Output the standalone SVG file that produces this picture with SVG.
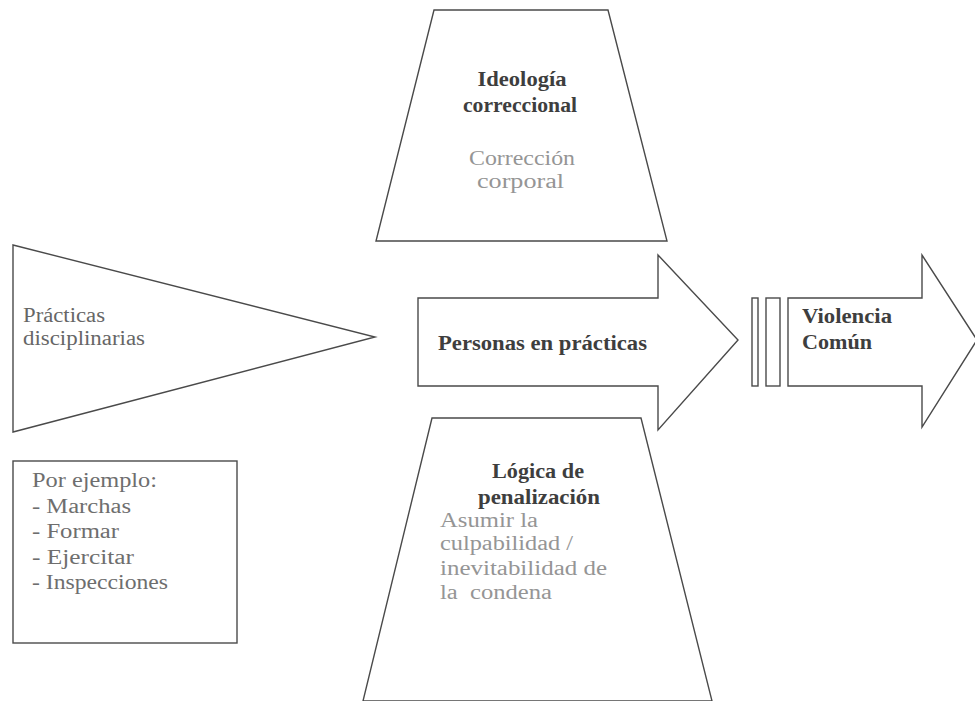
<svg xmlns="http://www.w3.org/2000/svg" width="975" height="701" viewBox="0 0 975 701">
<style>
.shape{fill:#ffffff;stroke:#4a4a4a;stroke-width:1.4;stroke-linejoin:miter}
.t{font-family:'Liberation Serif','DejaVu Serif','Times New Roman',serif;font-size:20px}
.head{font-weight:bold;fill:#3e3e3e}
.light{fill:#959595}
.mid{fill:#666666}
.box{fill:#6e6e6e}
</style>
<rect x="0" y="0" width="975" height="701" fill="#ffffff"/>
<g id="ideologia">
<polygon class="shape" points="434,10 608,10 667,241 376,241"/>
<text class="t head" x="522" y="86" text-anchor="middle" textLength="89" lengthAdjust="spacingAndGlyphs">Ideología</text>
<text class="t head" x="520" y="112" text-anchor="middle" textLength="114" lengthAdjust="spacingAndGlyphs">correccional</text>
<text class="t light" x="522" y="165" text-anchor="middle" textLength="106" lengthAdjust="spacingAndGlyphs">Corrección</text>
<text class="t light" x="520.5" y="188" text-anchor="middle" textLength="87" lengthAdjust="spacingAndGlyphs">corporal</text>
</g>
<g id="practicas">
<polygon class="shape" points="13,245 375,337 13,432"/>
<text class="t mid" x="23" y="322" textLength="82" lengthAdjust="spacingAndGlyphs">Prácticas</text>
<text class="t mid" x="23" y="345" textLength="122" lengthAdjust="spacingAndGlyphs">disciplinarias</text>
</g>
<g id="ejemplos">
<rect class="shape" x="13" y="461" width="224" height="182"/>
<text class="t box" x="32" y="487" textLength="125" lengthAdjust="spacingAndGlyphs">Por ejemplo:</text>
<text class="t box" x="32" y="512.5" textLength="99" lengthAdjust="spacingAndGlyphs">- Marchas</text>
<text class="t box" x="32" y="538" textLength="87" lengthAdjust="spacingAndGlyphs">- Formar</text>
<text class="t box" x="32" y="563.5" textLength="102" lengthAdjust="spacingAndGlyphs">- Ejercitar</text>
<text class="t box" x="32" y="589" textLength="136" lengthAdjust="spacingAndGlyphs">- Inspecciones</text>
</g>
<g id="personas">
<polygon class="shape" points="418,298 658,298 658,255 738,340 658,430 658,386 418,386"/>
<text class="t head" x="438" y="350" textLength="209" lengthAdjust="spacingAndGlyphs">Personas en prácticas</text>
</g>
<g id="barreras">
<rect class="shape" x="752" y="298" width="6" height="88"/>
<rect class="shape" x="766" y="298" width="14" height="88"/>
</g>
<g id="violencia">
<polygon class="shape" points="788,298 922,298 922,255 977,340 922,427 922,386 788,386"/>
<text class="t head" x="802" y="323" textLength="90" lengthAdjust="spacingAndGlyphs">Violencia</text>
<text class="t head" x="802" y="349" textLength="70" lengthAdjust="spacingAndGlyphs">Común</text>
</g>
<g id="penalizacion">
<polygon class="shape" points="432,418 641,418 712,701 363,701"/>
<text class="t head" x="538" y="478" text-anchor="middle" textLength="92" lengthAdjust="spacingAndGlyphs">Lógica de</text>
<text class="t head" x="539" y="504" text-anchor="middle" textLength="122" lengthAdjust="spacingAndGlyphs">penalización</text>
<text class="t light" x="440" y="527" textLength="98" lengthAdjust="spacingAndGlyphs">Asumir la</text>
<text class="t light" x="440" y="550" textLength="133" lengthAdjust="spacingAndGlyphs">culpabilidad /</text>
<text class="t light" x="440" y="575" textLength="167" lengthAdjust="spacingAndGlyphs">inevitabilidad de</text>
<text class="t light" x="440" y="599" xml:space="preserve" textLength="112" lengthAdjust="spacingAndGlyphs">la  condena</text>
</g>
<g id="connectors"></g>
</svg>
